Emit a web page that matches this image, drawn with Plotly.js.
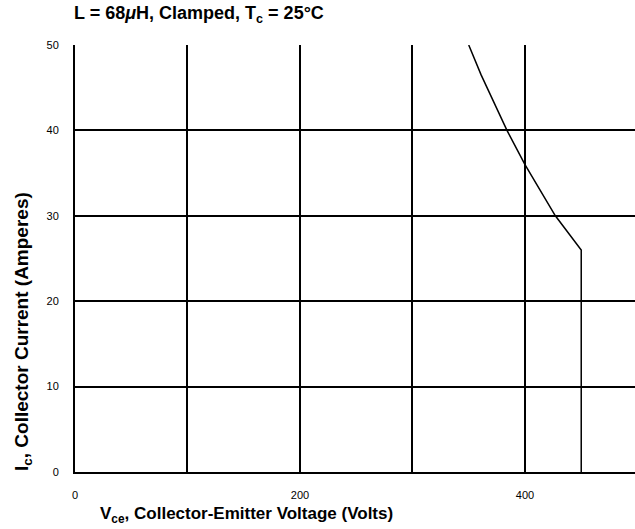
<!DOCTYPE html>
<html><head><meta charset="utf-8">
<script src="https://cdn.plot.ly/plotly-3.0.1.min.js"></script>
<style>html,body{margin:0;padding:0;background:#fff}#c{width:635px;height:529px}</style>
</head><body><div id="c"></div>
<script>
const vce = [350, 361, 384, 400, 427, 450, 450];
const ic  = [50, 46.5, 40, 36, 30, 26, 0];
const xTickVals = [0, 200, 400];
const xTickText = ['0', '200', '400'];
const yTickVals = [0, 10, 20, 30, 40, 50];

const data = [{x: vce, y: ic, type: 'scatter', mode: 'lines', line: {color: '#000', width: 1.5}, showlegend: false, hoverinfo: 'skip'}];
const F = 'Liberation Sans, Arial, sans-serif';
const layout = {
  width: 635, height: 529,
  margin: {l: 75, r: 0, t: 45, b: 57},
  paper_bgcolor: '#fff', plot_bgcolor: '#fff',
  xaxis: {range: [0, 497.8], tickvals: xTickVals, ticktext: xTickText, showgrid: true, gridcolor: '#000', gridwidth: 2,
    minor: {dtick: 100, tick0: 0, showgrid: true, gridcolor: '#000', gridwidth: 2, ticks: ''},
    zeroline: false, showline: true, linecolor: '#000', linewidth: 2, ticks: '', ticklabelstandoff: 12,
    tickfont: {family: F, size: 11, color: '#000'}},
  yaxis: {range: [0, 50], tickvals: yTickVals, showgrid: true, gridcolor: '#000', gridwidth: 2,
    zeroline: false, showline: true, linecolor: '#000', linewidth: 2, ticks: '', ticklabelstandoff: 12,
    tickfont: {family: F, size: 11, color: '#000'}},
  annotations: [
    {xref: 'paper', yref: 'paper', x: 0, y: 1, xanchor: 'left', yanchor: 'middle', xshift: -3, yshift: 31,
     text: '<b>L = 68<i>μ</i>H, Clamped, T<sub>c</sub> = 25°C</b>', showarrow: false, font: {family: F, size: 18, color: '#000'}},
    {xref: 'paper', yref: 'paper', x: 0, y: 0, xanchor: 'left', yanchor: 'middle', xshift: 23, yshift: -43,
     text: '<b>V<sub>ce</sub>, Collector-Emitter Voltage (Volts)</b>', showarrow: false, font: {family: F, size: 17, color: '#000'}},
    {xref: 'paper', yref: 'paper', x: 0, y: 0.328, xanchor: 'center', yanchor: 'middle', xshift: -52, textangle: -90,
     text: '<b>I<sub>c</sub>, Collector Current (Amperes)</b>', showarrow: false, font: {family: F, size: 19, color: '#000'}}
  ]
};
Plotly.newPlot('c', data, layout, {staticPlot: true});
</script></body></html>
